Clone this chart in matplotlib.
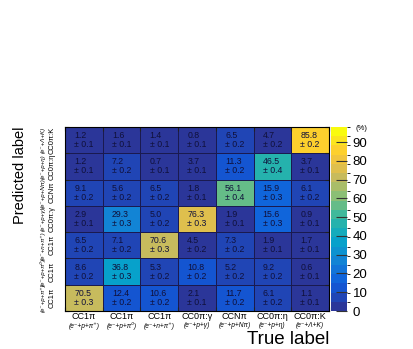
import numpy as np
import matplotlib
matplotlib.use("Agg")
import matplotlib.pyplot as plt
from matplotlib.colors import LinearSegmentedColormap, BoundaryNorm

plt.rcParams['font.family'] = ['Liberation Sans', 'DejaVu Sans']

# channel names (true on x, predicted on y, bottom to top)
names = ["CC1π", "CC1π", "CC1π", "CC0π:γ", "CCNπ", "CC0π:η", "CC0π:K"]
finals = ["(e⁻+p+π⁺)", "(e⁻+p+π⁰)", "(e⁻+n+π⁺)", "(e⁻+p+γ)",
          "(e⁻+p+Nπ)", "(e⁻+p+η)", "(e⁻+Λ+K)"]

# rows = predicted label (bottom to top), cols = true label, in %
frac = np.array([
    [70.5, 12.4, 10.6, 2.1, 11.7, 6.1, 1.1],
    [8.6, 36.8, 5.3, 10.8, 5.2, 9.2, 0.6],
    [6.5, 7.1, 70.6, 4.5, 7.3, 1.9, 1.7],
    [2.9, 29.3, 5.0, 76.3, 1.9, 15.6, 0.9],
    [9.1, 5.6, 6.5, 1.8, 56.1, 15.9, 6.1],
    [1.2, 7.2, 0.7, 3.7, 11.3, 46.5, 3.7],
    [1.2, 1.6, 1.4, 0.8, 6.5, 4.7, 85.8],
])
err = np.array([
    [0.3, 0.2, 0.2, 0.1, 0.2, 0.2, 0.1],
    [0.2, 0.3, 0.2, 0.2, 0.2, 0.2, 0.1],
    [0.2, 0.2, 0.3, 0.2, 0.2, 0.1, 0.1],
    [0.1, 0.3, 0.2, 0.3, 0.1, 0.3, 0.1],
    [0.2, 0.2, 0.2, 0.1, 0.4, 0.3, 0.2],
    [0.1, 0.2, 0.1, 0.1, 0.2, 0.4, 0.1],
    [0.1, 0.1, 0.1, 0.1, 0.2, 0.2, 0.2],
])
zmax = 98.0

# ROOT kBird-like palette (a bit bluer at the low end)
stops = [0.0, 0.125, 0.25, 0.375, 0.5, 0.625, 0.75, 0.875, 1.0]
red = [0.17, 0.0592, 0.0780, 0.0232, 0.1802, 0.5301, 0.8186, 0.9956, 0.9764]
green = [0.21, 0.3599, 0.5041, 0.6419, 0.7178, 0.7492, 0.7328, 0.7862, 0.9832]
blue = [0.60, 0.8684, 0.8385, 0.7914, 0.6425, 0.4662, 0.3499, 0.1968, 0.0539]
bird = LinearSegmentedColormap.from_list(
    "bird", [(s, (r, g, b)) for s, r, g, b in zip(stops, red, green, blue)])
levels = np.linspace(0, zmax, 21)
norm = BoundaryNorm(levels, bird.N)

fig = plt.figure(figsize=(4.14, 3.49), dpi=100)
ax = fig.add_axes([65 / 414, 1 - 311 / 349, 264 / 414, 184 / 349])
n = len(names)
mesh = ax.pcolormesh(np.arange(n + 1), np.arange(n + 1), frac, cmap=bird, norm=norm,
                     edgecolor='#1a1a50', linewidth=0.4)
ax.set_xlim(0, n)
ax.set_ylim(0, n)

for i in range(n):
    for j in range(n):
        ax.text(j + 0.5, i + 0.5, "%.1f\n± %.1f" % (frac[i, j], err[i, j]),
                ha='center', va='center', fontsize=6.3, color='#10103a',
                multialignment='left', linespacing=1.0)

ax.set_xticks(np.arange(n + 1))
ax.set_yticks(np.arange(n + 1))
ax.set_xticklabels([])
ax.set_yticklabels([])
ax.tick_params(direction='in', length=3, width=0.8, top=True, right=True, color='#222222')
for s in ax.spines.values():
    s.set_linewidth(0.8)

for k in range(n):
    ax.text(k + 0.5, -0.05, names[k], ha='center', va='top', fontsize=6.5)
    ax.text(k + 0.5, -0.43, finals[k], ha='center', va='top', fontsize=4.8,
            style='italic')
    ax.text(-0.26, k + 0.5, names[k], ha='right', va='center', fontsize=5.4,
            rotation=90)
    ax.text(-0.5, k + 0.5, finals[k], ha='right', va='center', fontsize=4.4,
            rotation=90, style='italic')

fig.text(329 / 414, 1 - 344 / 349, "True label", ha='right', va='baseline', fontsize=13.5)
fig.text(20 / 414, 1 - 127 / 349, "Predicted label", ha='center', va='top',
         fontsize=10.5, rotation=90)

cax = fig.add_axes([331 / 414, 1 - 311 / 349, 16 / 414, 184 / 349])
cb = fig.colorbar(mesh, cax=cax, ticks=np.arange(0, 91, 10))
cb.outline.set_visible(False)
cax.tick_params(direction='in', length=8, width=0.8, labelsize=9.5, color='#333333', pad=4)
fig.text(356 / 414, 1 - 129 / 349, "(%)", fontsize=5.5, ha='left', va='center')

fig.savefig("out.png", dpi=100)
